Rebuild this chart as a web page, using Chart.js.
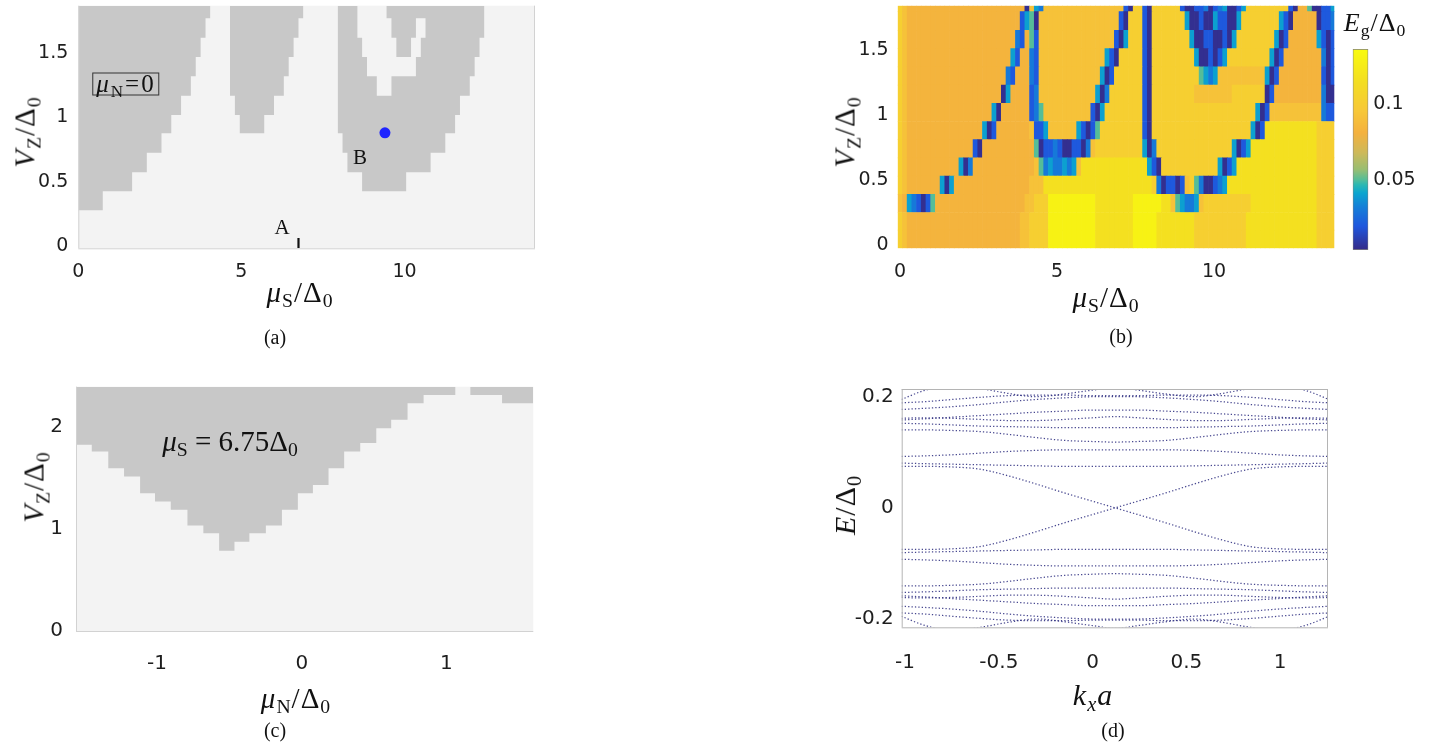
<!DOCTYPE html>
<html>
<head>
<meta charset="utf-8">
<title>phase diagram and spectrum</title>
<script src="https://cdn.jsdelivr.net/npm/chart.js@4.4.1/dist/chart.umd.min.js"></script>
<style>
  html, body { margin: 0; padding: 0; background: #fff; }
  body { position: relative; width: 1431px; height: 746px; overflow: hidden; }
  canvas { position: absolute; }
  .t { position: absolute; transform: translate(-50%, -50%); white-space: nowrap; color: #111;
       font-family: 'Liberation Serif', 'DejaVu Serif', serif; line-height: 1; }
  .t sub { font-size: 0.68em; vertical-align: -0.3em; line-height: 0; }
  .m { font-size: 29px; letter-spacing: 1px; }
  .rot { transform: translate(-50%, -50%) rotate(-90deg); }
  .cap { font-size: 20px; }
</style>
</head>
<body>
<canvas id="cA" width="560" height="300" style="left:0px;top:0px"></canvas>
<canvas id="cB" width="520" height="300" style="left:840px;top:0px"></canvas>
<canvas id="cBar" width="86" height="220" style="left:1345px;top:40px"></canvas>
<canvas id="cC" width="560" height="320" style="left:0px;top:375px"></canvas>
<canvas id="cD" width="540" height="320" style="left:820px;top:375px"></canvas>

<!-- (a) -->
<div class="t m rot" style="left:25px;top:132px"><i>V</i><sub>Z</sub>/Δ<sub>0</sub></div>
<div class="t m" style="left:300px;top:292px"><i>μ</i><sub>S</sub>/Δ<sub>0</sub></div>
<div class="t cap" style="left:275px;top:337px">(a)</div>
<div class="t" style="left:126px;top:84px;font-size:25px;line-height:19px;border:1px solid #333;padding:0px 3px 2px 3px;letter-spacing:2px"><i>μ</i><sub>N</sub>=0</div>
<div class="t" style="left:282px;top:227px;font-size:21px">A</div>
<div class="t" style="left:360px;top:157px;font-size:21px">B</div>
<!-- (b) -->
<div class="t m rot" style="left:845px;top:132px"><i>V</i><sub>Z</sub>/Δ<sub>0</sub></div>
<div class="t m" style="left:1106px;top:297px"><i>μ</i><sub>S</sub>/Δ<sub>0</sub></div>
<div class="t cap" style="left:1121px;top:336px">(b)</div>
<div class="t" style="left:1375px;top:23px;font-size:26px;letter-spacing:1px"><i>E</i><sub>g</sub>/Δ<sub>0</sub></div>
<!-- (c) -->
<div class="t m rot" style="left:34px;top:487px"><i>V</i><sub>Z</sub>/Δ<sub>0</sub></div>
<div class="t m" style="left:296px;top:698px"><i>μ</i><sub>N</sub>/Δ<sub>0</sub></div>
<div class="t cap" style="left:275px;top:730px">(c)</div>
<div class="t" style="left:230px;top:441px;font-size:29px"><i>μ</i><sub>S</sub> = 6.75Δ<sub>0</sub></div>
<!-- (d) -->
<div class="t m rot" style="left:845px;top:505px;font-size:30px"><i>E</i>/Δ<sub>0</sub></div>
<div class="t m" style="left:1093px;top:695px;font-size:30px"><i>k</i><sub><i>x</i></sub><i>a</i></div>
<div class="t cap" style="left:1113px;top:730px">(d)</div>

<script>
// ---- (a) mu_N = 0: lower edges of the gray regions (stepped), mu_S / Vz
const aLeftMu  = [0, 0.75, 1.65, 2.1, 2.55, 2.85, 3.15, 3.45, 3.6, 3.75, 3.9, 4.05];
const aLeftVz  = [0.28, 0.426, 0.573, 0.725, 0.876, 1.018, 1.168, 1.318, 1.468, 1.618, 1.768, 1.866];
const aMidMu   = [4.65, 4.8, 4.95, 5.7, 6.0, 6.3, 6.45, 6.6, 6.75, 6.9];
const aMidVz   = [1.168, 1.018, 0.876, 1.018, 1.168, 1.318, 1.468, 1.618, 1.768, 1.866];
const aRightMu = [7.95, 8.1, 8.25, 8.7, 10.05, 10.8, 11.25, 11.55, 11.7, 12.0, 12.15, 12.3, 12.45];
const aRightVz = [0.876, 0.725, 0.573, 0.426, 0.573, 0.725, 0.876, 1.018, 1.168, 1.318, 1.468, 1.618, 1.866];
// white hole inside the right region
const aHoleMu  = [8.55, 8.7, 8.85, 9.15, 9.45, 9.6, 9.75, 10.2, 10.35, 10.5, 10.65];
const aHoleTop = [1.866, 1.866, 1.866, 1.866, 1.768, 1.618, 1.468, 1.618, 1.768, 1.768, 1.768];
const aHoleBot = [1.618, 1.468, 1.318, 1.168, 1.168, 1.318, 1.318, 1.318, 1.468, 1.618, 1.618];
const aPointB  = { mu: 9.4, vz: 0.88 };
const aMarkA   = { mu: 6.75, vz: [-0.016, 0.064] };

// ---- (b) gap map, rows from bottom (Vz) to top, columns mu_S = 0, 0.15, ... 13.8
const bVzEdges = [-0.025, 0.115, 0.25, 0.39, 0.53, 0.67, 0.81, 0.95, 1.09, 1.23, 1.37, 1.51, 1.65, 1.795, 1.84];
const bGapLevel = { N: 0.005, B: 0.02, b: 0.03, T: 0.04, G: 0.05, o: 0.083, p: 0.092, q: 0.102, y: 0.117, Y: 0.13 };
const bGapRows = [
  'q p o24 p2 q4 Y10 y8 Y5 y8 q11 y15 q4',
  'q p o24 p2 q4 Y10 y8 Y5 y8 q11 y15 q4',
  'p o T b B N B G o19 p2 q3 Y10 y8 Y6 y2 p G T b b T p q10 y14 q4',
  'q p o7 T N T o16 p3 y23 q b N B B N B p q G b N N B b T y19 q4',
  'q p o11 T N b o13 p G b T b b T b T p y14 T B N q12 T N B T y17 q4',
  'q p o14 B N o11 G N B B b B N N B B N b p q10 T N b q16 T N B T y14 q4',
  'q p o16 T N B o7 p B B T p6 T B N B G q9 B N q21 T N B y11 q4',
  'q p o18 T N o6 B b G p10 B N T q8 B N q22 T N B p11 b B B',
  'q p o20 N T o4 B b p12 T N b q7 B N q9 p8 q7 N B o10 b N N',
  'q p o21 b B o3 b B p13 T N B q6 B N q10 G T b T p10 T N B o9 B N B',
  'q p o22 T B o2 b B p14 T B N q5 B N q9 T N N B N B T q9 T N B o8 b N B',
  'q p o23 b B o G B p16 B N T q3 B N q8 T N N B B N N B N T q8 T N B o6 T B N B',
  'q p o24 B T G N p17 B N q3 B N q7 T N N B N N T B B N N T q8 T B N o5 N B B b',
  'q p o25 N p T b p17 B N q2 B N q6 B N N B B b N B b T N N B T q9 B N o2 G N N B B T'
];
// colour bar (value -> colour)
const cbVals   = [0.0033, 0.0189, 0.0322, 0.0411, 0.0467, 0.05, 0.0567, 0.0678, 0.0811, 0.0967, 0.1144, 0.1367];
const cbColors = ['#352a87', '#1f56dd', '#1480d8', '#0ba5cf', '#2cb8b2', '#55bd98', '#98be72', '#cdb95a', '#f4b13e', '#f7c937', '#f3dd22', '#f9fb0e'];

// ---- (c) mu_S = 6.75: lower edge of the gray region, mu_N / Vz
const cMuN = [-1.56, -1.451, -1.337, -1.228, -1.117, -1.014, -0.905, -0.79, -0.68, -0.571, -0.465, -0.362, -0.248, -0.137,
              -0.027, 0.077, 0.185, 0.293, 0.404, 0.515, 0.618, 0.731, 0.842, 1.061, 1.165, 1.384, 1.6];
const cVz  = [1.821, 1.755, 1.593, 1.511, 1.348, 1.266, 1.185, 1.031, 0.956, 0.786, 0.874, 0.956, 1.031, 1.185,
              1.348, 1.429, 1.593, 1.755, 1.838, 1.984, 2.066, 2.229, 2.31, 2.39, 2.31, 2.229, 2.39];

// ---- (d) spectrum at point B, E>0 branches (the E<0 ones are their mirror)
const dK    = [-1.02, -0.9, -0.75, -0.6, -0.45, -0.3, -0.15, 0, 0.12, 0.24, 0.39, 0.54, 0.69, 0.84, 0.99, 1.14, 1.26];
const bandX = [0.196, 0.212, 0.222, 0.216, 0.207, 0.201, 0.206, 0.213, 0.218, 0.213, 0.206, 0.201, 0.207, 0.216, 0.222, 0.212, 0.196];
const bandW = [0.19, 0.192, 0.196, 0.2, 0.203, 0.204, 0.204, 0.203, 0.203, 0.203, 0.204, 0.204, 0.203, 0.2, 0.196, 0.192, 0.19];
const bandV = [0.178, 0.18, 0.183, 0.187, 0.192, 0.196, 0.199, 0.201, 0.201, 0.201, 0.199, 0.196, 0.192, 0.187, 0.183, 0.18, 0.178];
const bandU = [0.162, 0.163, 0.162, 0.16, 0.158, 0.158, 0.16, 0.163, 0.165, 0.163, 0.16, 0.158, 0.158, 0.16, 0.162, 0.163, 0.162];
const bandT = [0.159, 0.161, 0.164, 0.167, 0.17, 0.173, 0.175, 0.177, 0.177, 0.177, 0.175, 0.173, 0.17, 0.167, 0.164, 0.161, 0.159];
const bandS = [0.153, 0.152, 0.15, 0.148, 0.147, 0.146, 0.145, 0.145, 0.145, 0.145, 0.145, 0.146, 0.147, 0.148, 0.15, 0.152, 0.153];
const bandR = [0.141, 0.141, 0.14, 0.138, 0.133, 0.127, 0.122, 0.12, 0.119, 0.12, 0.122, 0.127, 0.133, 0.138, 0.14, 0.141, 0.141];
const bandQ = [0.093, 0.094, 0.096, 0.099, 0.102, 0.104, 0.105, 0.105, 0.105, 0.105, 0.105, 0.104, 0.102, 0.099, 0.096, 0.094, 0.093];
const bandP = [0.081, 0.08, 0.079, 0.078, 0.077, 0.076, 0.075, 0.075, 0.075, 0.075, 0.075, 0.076, 0.077, 0.078, 0.079, 0.08, 0.081];
const bandA = [0.075, 0.075, 0.074, 0.07, 0.058, 0.043, 0.027, 0.012, 0, -0.012, -0.027, -0.043, -0.058, -0.07, -0.074, -0.075, -0.075];

// ---------------------------------------------------------------
const GRAY = '#c8c8c8';
const LIGHT = '#f3f3f3';
const fontAB = { family: "'DejaVu Sans', sans-serif", size: 19 };
const fontCD = { family: "'DejaVu Sans', sans-serif", size: 20 };

Chart.defaults.animation = false;
Chart.defaults.responsive = false;
Chart.defaults.plugins.legend.display = false;
Chart.defaults.plugins.tooltip.enabled = false;

// plot background + thin axis box
Chart.register({
  id: 'frame',
  beforeDatasetsDraw(chart, args, opts) {
    if (!opts.bg) return;
    const { ctx, chartArea: a } = chart;
    ctx.save();
    ctx.fillStyle = opts.bg;
    ctx.fillRect(a.left, a.top, a.right - a.left, a.bottom - a.top);
    ctx.restore();
  },
  afterDatasetsDraw(chart, args, opts) {
    const sides = opts.sides || [];
    if (!sides.length) return;
    const { ctx, chartArea: a } = chart;
    ctx.save();
    ctx.strokeStyle = opts.color || '#ccc';
    ctx.lineWidth = 1;
    ctx.beginPath();
    if (sides.includes('bottom')) { ctx.moveTo(a.left, a.bottom + 0.5); ctx.lineTo(a.right, a.bottom + 0.5); }
    if (sides.includes('top')) { ctx.moveTo(a.left, a.top + 0.5); ctx.lineTo(a.right, a.top + 0.5); }
    if (sides.includes('left')) { ctx.moveTo(a.left + 0.5, a.top); ctx.lineTo(a.left + 0.5, a.bottom); }
    if (sides.includes('right')) { ctx.moveTo(a.right - 0.5, a.top); ctx.lineTo(a.right - 0.5, a.bottom); }
    ctx.stroke();
    ctx.restore();
  }
});

function axis(min, max, ticks, o) {
  return {
    type: 'linear', min: min, max: max, offset: false,
    grid: { display: false, drawTicks: false, offset: false },
    border: { display: false },
    afterBuildTicks: s => { s.ticks = ticks.map(v => ({ value: v })); },
    afterFit: s => {
      if (o.width != null) s.width = o.width;
      if (o.height != null) s.height = o.height;
      // the plot box is fixed by hand, so no extra room for label overhang
      s.paddingTop = 0; s.paddingBottom = 0; s.paddingLeft = 0; s.paddingRight = 0;
    },
    ticks: { font: o.font, color: '#1e1e1e', padding: o.pad, autoSkip: false, maxRotation: 0, callback: v => String(v) }
  };
}

function stepArea(xs, ys, color, extra) {
  return Object.assign({
    data: xs.map((x, i) => ({ x: x, y: ys[i] })),
    stepped: true, pointRadius: 0, borderWidth: 0, borderColor: 'rgba(0,0,0,0)',
    backgroundColor: color, fill: 'end'
  }, extra || {});
}

function gapColor(v) {
  if (v <= cbVals[0]) return cbColors[0];
  for (let i = 1; i < cbVals.length; i++) {
    if (v <= cbVals[i]) {
      const f = (v - cbVals[i - 1]) / (cbVals[i] - cbVals[i - 1]);
      const c0 = cbColors[i - 1], c1 = cbColors[i];
      const ch = k => Math.round(parseInt(c0.substr(k, 2), 16) * (1 - f) + parseInt(c1.substr(k, 2), 16) * f);
      return 'rgb(' + ch(1) + ',' + ch(3) + ',' + ch(5) + ')';
    }
  }
  return cbColors[cbColors.length - 1];
}

function decodeRow(s) {
  const out = [];
  s.trim().split(/\s+/).forEach(tok => {
    const n = tok.length > 1 ? parseInt(tok.slice(1), 10) : 1;
    for (let k = 0; k < n; k++) out.push(tok[0]);
  });
  return out;
}

// ---- (a)
new Chart(document.getElementById('cA'), {
  type: 'line',
  data: { datasets: [
    { type: 'scatter', data: [{ x: aPointB.mu, y: aPointB.vz }], pointRadius: 5.5, backgroundColor: '#1f24ff', borderWidth: 0, order: 0 },
    { data: aMarkA.vz.map(v => ({ x: aMarkA.mu, y: v })), borderColor: '#111', borderWidth: 2.2, pointRadius: 0, order: 0 },
    stepArea(aHoleMu, aHoleBot, 'rgba(0,0,0,0)', { fill: false, order: 1 }),
    stepArea(aHoleMu, aHoleTop, LIGHT, { fill: 2, order: 1 }),
    stepArea(aLeftMu, aLeftVz, GRAY, { order: 2 }),
    stepArea(aMidMu, aMidVz, GRAY, { order: 2 }),
    stepArea(aRightMu, aRightVz, GRAY, { order: 2 })
  ] },
  options: {
    layout: { padding: { left: 0, top: 5.7, right: 25, bottom: 0 } },
    scales: {
      x: axis(0, 14, [0, 5, 10], { height: 51.7, font: fontAB, pad: 12 }),
      y: axis(-0.016, 1.866, [0, 0.5, 1, 1.5], { width: 78.3, font: fontAB, pad: 10 })
    },
    plugins: { frame: { bg: LIGHT, sides: ['left', 'bottom', 'right'], color: '#d2d2d2' } }
  }
});

// ---- (b)
const bMu = Array.from({ length: 93 }, (_, j) => Math.round(j * 15) / 100);
const bSets = bGapRows.map((row, i) => {
  const codes = decodeRow(row);
  return {
    data: codes.map((c, j) => ({ x: bMu[j], y: [bVzEdges[i], bVzEdges[i + 1]] })),
    backgroundColor: codes.map(c => gapColor(bGapLevel[c])),
    borderWidth: 0, grouped: false, barPercentage: 1, categoryPercentage: 1
  };
});
new Chart(document.getElementById('cB'), {
  type: 'bar',
  data: { datasets: bSets },
  options: {
    layout: { padding: { left: 0, top: 5.7, right: 25.7, bottom: 0 } },
    scales: {
      x: axis(-0.075, 13.83, [0, 5, 10], { height: 51.7, font: fontAB, pad: 12 }),
      y: axis(-0.025, 1.84, [0, 0.5, 1, 1.5], { width: 57.7, font: fontAB, pad: 9 })
    }
  }
});

// colour bar
function cbGradient(chart) {
  const { ctx, chartArea, scales } = chart;
  if (!chartArea) return cbColors[0];
  const lo = cbVals[0], hi = cbVals[cbVals.length - 1];
  const g = ctx.createLinearGradient(0, scales.y.getPixelForValue(lo), 0, scales.y.getPixelForValue(hi));
  cbVals.forEach((v, i) => g.addColorStop((v - lo) / (hi - lo), cbColors[i]));
  return g;
}
const cbAxis = axis(cbVals[0], cbVals[cbVals.length - 1], [0.05, 0.1], { width: 62.7, font: fontAB, pad: 5 });
cbAxis.position = 'right';
new Chart(document.getElementById('cBar'), {
  type: 'bar',
  data: { labels: ['Eg'], datasets: [{
    data: [[cbVals[0], cbVals[cbVals.length - 1]]],
    backgroundColor: c => cbGradient(c.chart),
    borderColor: '#808080', borderWidth: 1, borderSkipped: false,
    barPercentage: 1, categoryPercentage: 1
  }] },
  options: {
    layout: { padding: { left: 7.7, top: 9, right: 0, bottom: 10 } },
    scales: { x: { display: false }, y: cbAxis }
  }
});

// ---- (c)
new Chart(document.getElementById('cC'), {
  type: 'line',
  data: { datasets: [stepArea(cMuN, cVz, GRAY)] },
  options: {
    layout: { padding: { left: 0, top: 11.7, right: 26.7, bottom: 0 } },
    scales: {
      x: axis(-1.56, 1.6, [-1, 0, 1], { height: 64, font: fontCD, pad: 21 }),
      y: axis(0, 2.39, [0, 1, 2], { width: 76, font: fontCD, pad: 13 })
    },
    plugins: { frame: { bg: LIGHT, sides: ['left', 'bottom'], color: '#d2d2d2' } }
  }
});

// ---- (d)
function bandSet(es) {
  return {
    data: dK.map((k, i) => ({ x: k, y: es[i] })),
    borderColor: 'rgba(40,40,125,0.85)', borderWidth: 1.25, borderDash: [1.3, 2.1],
    pointRadius: 0, cubicInterpolationMode: 'monotone', fill: false
  };
}
const dSets = [];
[bandX, bandW, bandV, bandU, bandT, bandS, bandR, bandQ, bandP, bandA].forEach(b => {
  dSets.push(bandSet(b));
  dSets.push(bandSet(b.map(e => -e)));
});
new Chart(document.getElementById('cD'), {
  type: 'line',
  data: { datasets: dSets },
  options: {
    layout: { padding: { left: 0, top: 14, right: 32, bottom: 0 } },
    scales: {
      x: axis(-1.018, 1.255, [-1, -0.5, 0, 0.5, 1], { height: 67.7, font: fontCD, pad: 23 }),
      y: axis(-0.216, 0.215, [-0.2, 0, 0.2], { width: 81.7, font: fontCD, pad: 8 })
    },
    plugins: { frame: { sides: ['left', 'bottom', 'right', 'top'], color: '#b4b4b4' } }
  }
});
</script>
</body>
</html>
